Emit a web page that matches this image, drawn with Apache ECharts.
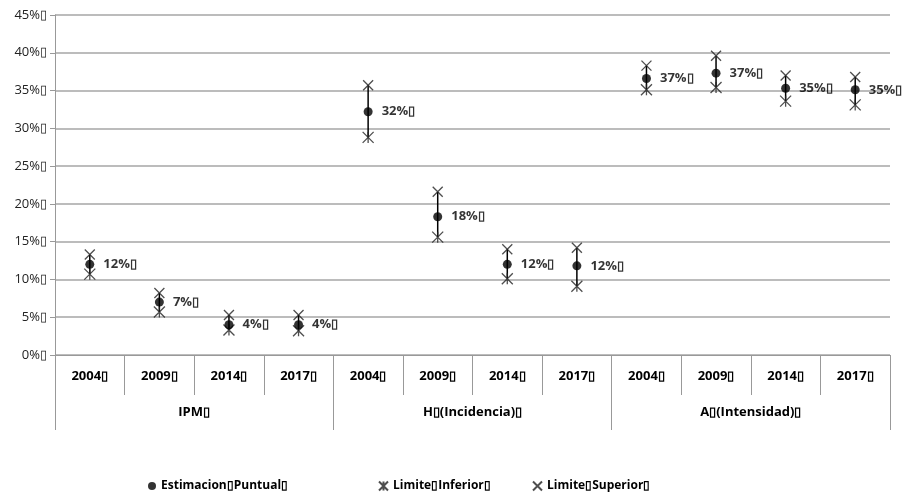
<!DOCTYPE html>
<html><head><meta charset="utf-8">
<script src="https://cdn.jsdelivr.net/npm/echarts@6/dist/echarts.min.js"></script>
<style>html,body{margin:0;padding:0;background:#fff}#c{width:906px;height:493px}</style>
</head><body><div id="c"></div>
<script>
const T = '\u25AF';
const years = ['2004','2009','2014','2017','2004','2009','2014','2017','2004','2009','2014','2017'];
const groups = ['IPM', 'H\u25AF(Incidencia)', 'A\u25AF(Intensidad)'];
const estimate = [12.0, 7.0, 4.0, 4.0, 32.2, 18.3, 12.0, 11.8, 36.6, 37.3, 35.3, 35.1];
const lower    = [10.7, 5.7, 3.3, 3.2, 28.8, 15.6, 10.1, 9.1, 35.1, 35.4, 33.6, 33.1];
const upper    = [13.3, 8.2, 5.3, 5.3, 35.7, 21.6, 14.0, 14.2, 38.3, 39.6, 37.0, 36.8];
const yTicks = [0, 45, 5];
const seriesNames = ['Estimacion' + T + 'Puntual' + T, 'Limite' + T + 'Inferior' + T, 'Limite' + T + 'Superior' + T];

const FONT = '"Open Sans", "Noto Sans", sans-serif';
const xPath = 'path://M0,0L10,10M10,0L0,10';
const starPath = 'path://M0,0L10,10M10,0L0,10M5,0L5,10';
const legendText = {fontFamily: FONT, fontWeight: 'bold', fontSize: 12, color: '#000'};

const chart = echarts.init(document.getElementById('c'));
chart.setOption({
  animation: false,
  textStyle: {fontFamily: FONT},
  grid: {left: 55, right: 16, top: 15, bottom: 138},
  legend: [
    {left: 143, top: 475, itemWidth: 8, itemHeight: 8, itemGap: 4, data: [seriesNames[0]], textStyle: legendText},
    {left: 373, top: 475, itemWidth: 9, itemHeight: 9, data: [seriesNames[1]], textStyle: legendText},
    {left: 527, top: 475, itemWidth: 9, itemHeight: 9, data: [seriesNames[2]], textStyle: legendText}
  ],
  xAxis: [
    {type: 'category', data: years, position: 'bottom', boundaryGap: true,
     axisLine: {show: true, lineStyle: {color: '#999', width: 1}},
     axisTick: {show: true, interval: 0, length: 40, lineStyle: {color: '#999'}},
     axisLabel: {interval: 0, margin: 15, fontWeight: 'bold', fontSize: 13, color: '#000', fontFamily: FONT,
       formatter: v => v + T},
     splitLine: {show: false}},
    {type: 'category', data: groups, position: 'bottom', offset: 0, boundaryGap: true,
     axisLine: {show: false},
     axisTick: {show: true, interval: 0, length: 75, lineStyle: {color: '#999'}},
     axisLabel: {interval: 0, margin: 51, fontWeight: 'bold', fontSize: 13, color: '#000', fontFamily: FONT,
       formatter: v => v + T},
     splitLine: {show: false}}
  ],
  yAxis: {type: 'value', min: yTicks[0], max: yTicks[1], interval: yTicks[2],
    axisLine: {show: true, lineStyle: {color: '#999'}},
    axisTick: {show: true, length: 5, lineStyle: {color: '#999'}},
    axisLabel: {formatter: v => v + '%' + T, fontSize: 13, color: '#222', margin: 8, fontFamily: FONT},
    splitLine: {show: true, lineStyle: {color: '#a6a6a6', width: 1.5}}},
  series: [
    {type: 'custom', name: 'bars', xAxisIndex: 0, z: 2, silent: true,
     data: lower.map((l, i) => [i, l, upper[i]]),
     encode: {x: 0, y: [1, 2]},
     renderItem: (params, api) => {
       const a = api.coord([api.value(0), api.value(1)]);
       const b = api.coord([api.value(0), api.value(2)]);
       return {type: 'line', shape: {x1: a[0], y1: a[1], x2: b[0], y2: b[1]},
               style: {stroke: '#000', lineWidth: 1.5}};
     }},
    {type: 'scatter', name: seriesNames[1], xAxisIndex: 0, z: 3, data: lower,
     symbol: starPath, symbolSize: 11,
     itemStyle: {color: 'rgba(0,0,0,0)', borderColor: '#222', borderWidth: 1.3}},
    {type: 'scatter', name: seriesNames[2], xAxisIndex: 0, z: 3, data: upper,
     symbol: xPath, symbolSize: 10,
     itemStyle: {color: 'rgba(0,0,0,0)', borderColor: '#222', borderWidth: 1.3}},
    {type: 'scatter', name: seriesNames[0], xAxisIndex: 0, z: 4, data: estimate,
     symbol: 'circle', symbolSize: 9, itemStyle: {color: '#000'},
     label: {show: true, position: 'right', distance: 9, fontWeight: 'bold', fontSize: 13,
       color: '#000', fontFamily: FONT, formatter: p => Math.round(p.value) + '%' + T}}
  ]
});
</script></body></html>
